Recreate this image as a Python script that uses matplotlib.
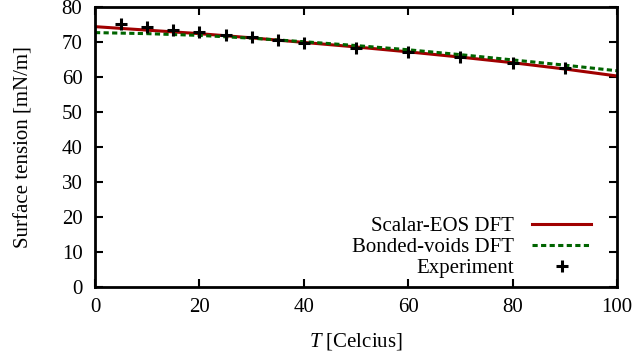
import matplotlib
matplotlib.use("Agg")
import matplotlib.pyplot as plt

plt.rcParams['font.family'] = ['Liberation Serif', 'DejaVu Serif']
plt.rcParams['mathtext.fontset'] = 'custom'
plt.rcParams['mathtext.it'] = 'Liberation Serif:italic'

# Model curves (sampled)
t_line = [0, 10, 20, 30, 40, 50, 60, 70, 80, 90, 100]
scalar_eos = [74.3, 73.3, 72.3, 71.1, 69.8, 68.5, 67.1, 65.6, 64.0, 62.2, 60.2]
bonded_voids = [72.6, 72.3, 71.8, 71.0, 70.0, 68.9, 67.7, 66.3, 64.8, 63.3, 61.7]

# Experimental data
t_exp = [5, 10, 15, 20, 25, 30, 35, 40, 50, 60, 70, 80, 90]
st_exp = [75.05, 74.1, 73.3, 72.7, 72.0, 71.3, 70.5, 69.7, 68.3, 67.0, 65.5, 64.0, 62.4]

xticks = [0, 20, 40, 60, 80, 100]
yticks = [0, 10, 20, 30, 40, 50, 60, 70, 80]

FS = 15

fig = plt.figure(figsize=(6.38, 3.53), dpi=100)
ax = fig.add_axes([95/638, (353-286.7)/353, (617-95)/638, (286.7-6.7)/353])

ax.plot(t_line, scalar_eos, color='#a00000', lw=2.2, label='Scalar-EOS DFT')
ax.plot(t_line, bonded_voids, color='#006400', lw=2.2, ls=(0, (1.7, 1.1)), label='Bonded-voids DFT')
ax.plot(t_exp, st_exp, ls='none', marker='+', color='black', ms=8, mew=2.2, label='Experiment')

ax.set_xlim(0, 100)
ax.set_ylim(0, 80)
ax.set_xticks(xticks)
ax.set_yticks(yticks)
ax.tick_params(direction='in', top=True, right=True, length=6, width=1.5, labelsize=FS)
ax.tick_params(axis='x', pad=8)
ax.tick_params(axis='y', pad=9)
for s in ax.spines.values():
    s.set_linewidth(2)

ax.set_xlabel(r'$T$ [Celcius]', fontsize=FS, labelpad=10)
ax.set_ylabel('Surface tension [mN/m]', fontsize=FS, labelpad=20)

leg = ax.legend(loc='lower right', bbox_to_anchor=(0.967, 0.0), frameon=False, markerfirst=False,
                fontsize=FS, handlelength=2.85, labelspacing=0.08, handletextpad=0.85,
                borderaxespad=0.0)

fig.savefig('out.png', dpi=100)
